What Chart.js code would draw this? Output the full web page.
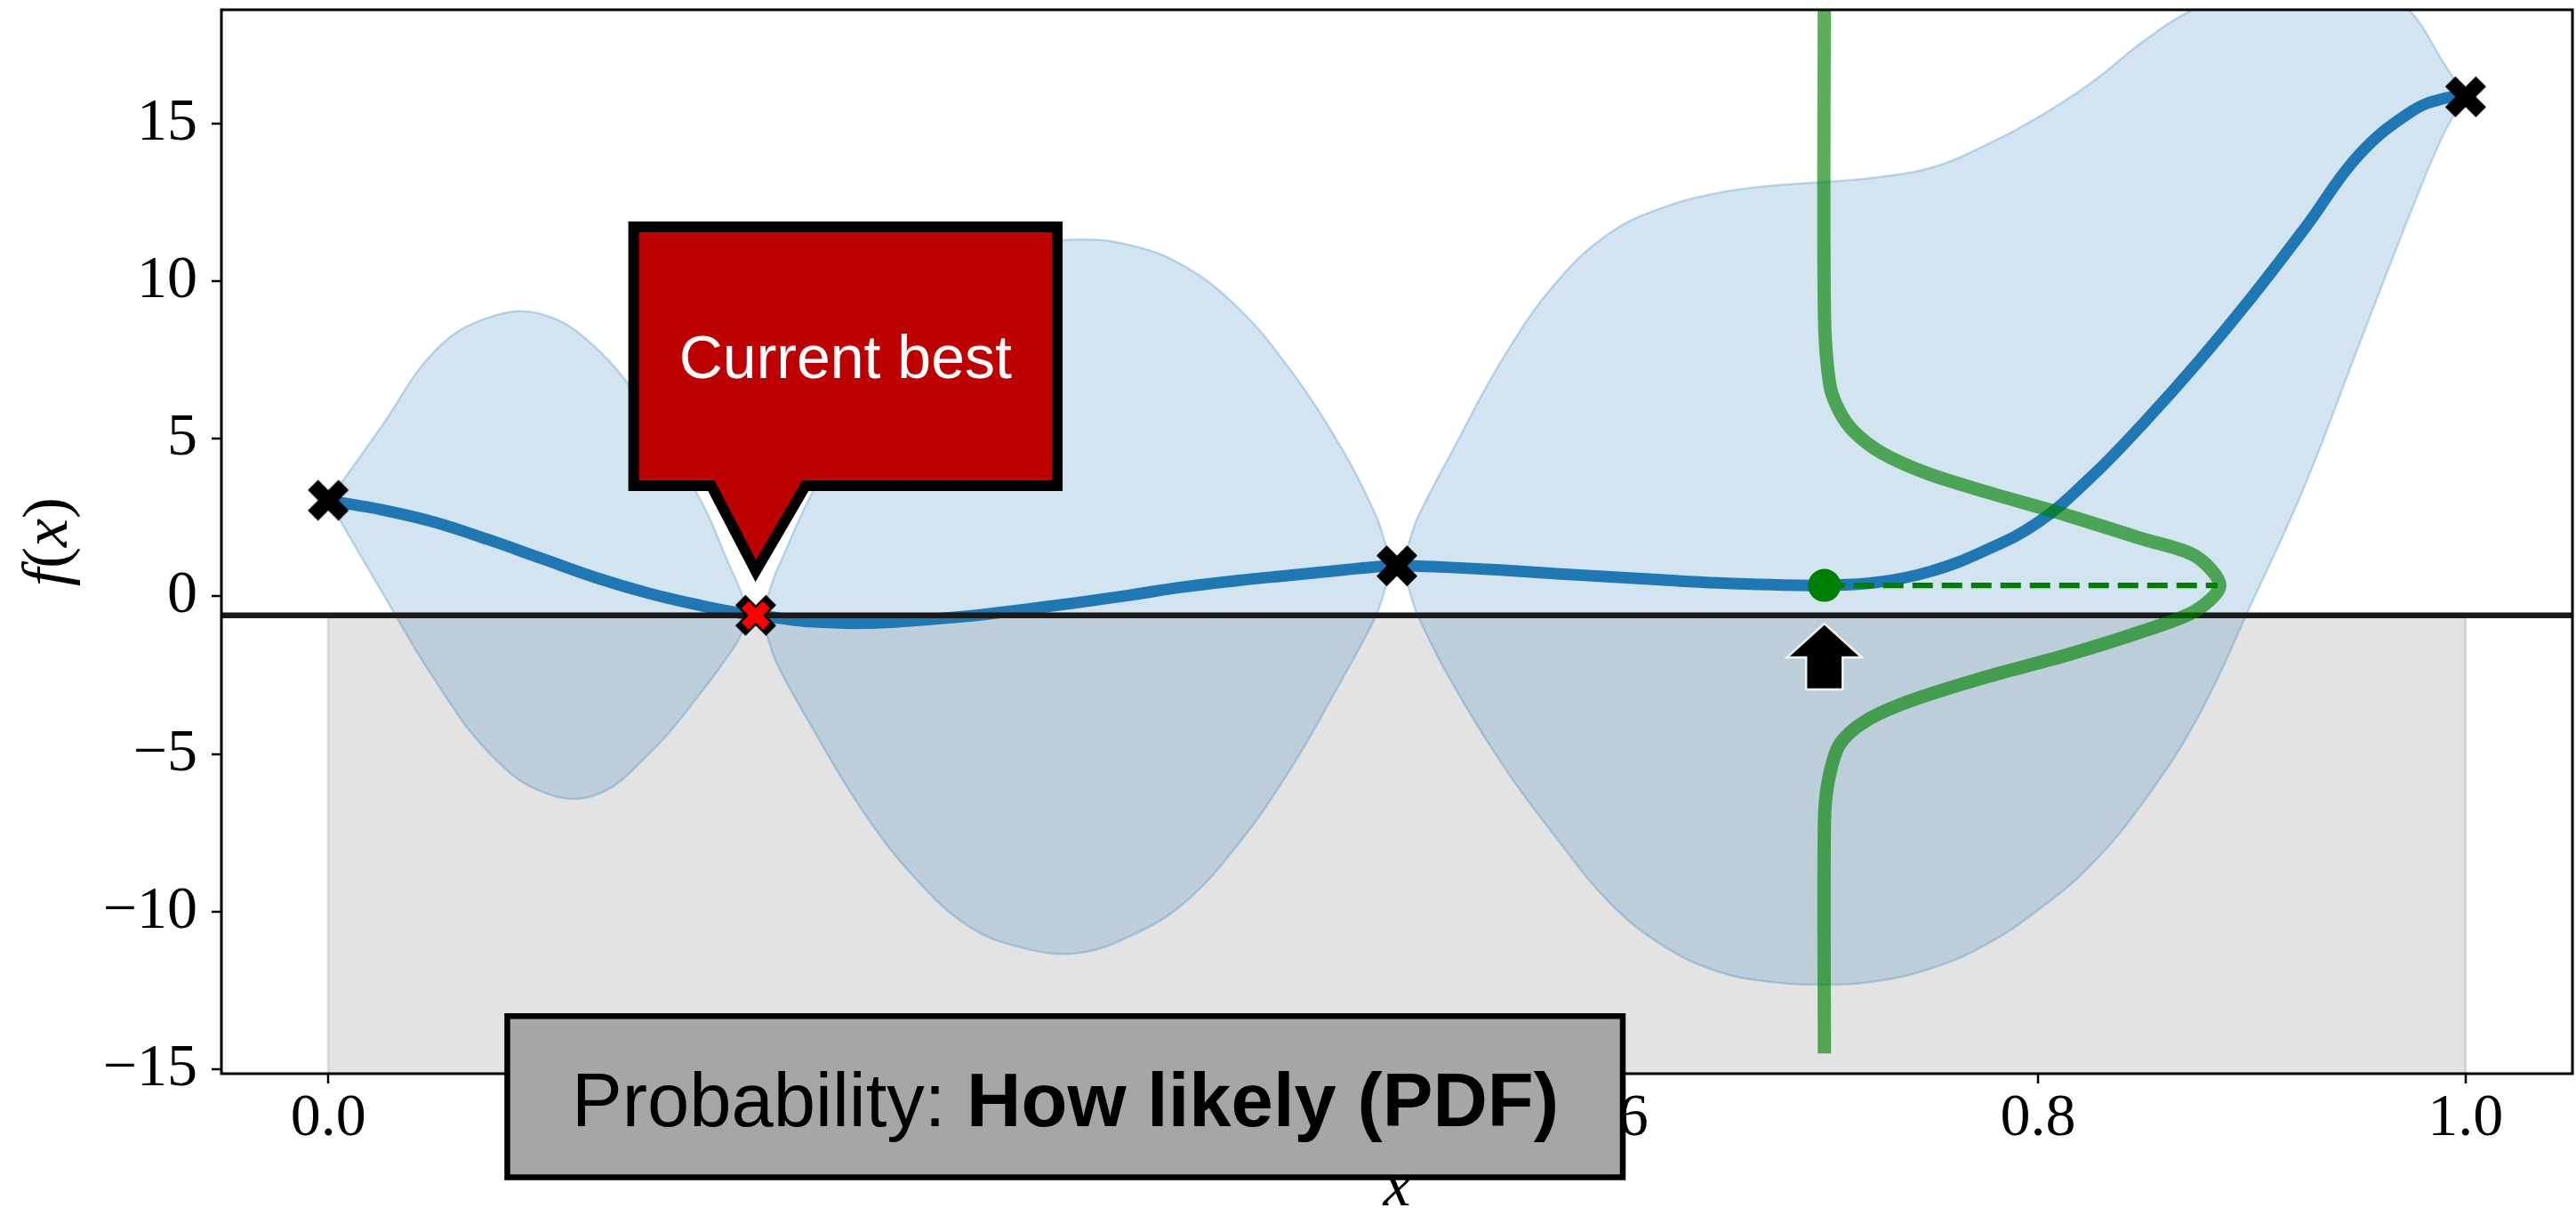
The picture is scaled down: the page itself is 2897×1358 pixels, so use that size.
<!DOCTYPE html>
<html>
<head>
<meta charset="utf-8">
<title>Expected improvement at a candidate point</title>
<script src="https://cdn.jsdelivr.net/npm/chart.js@4.4.1/dist/chart.umd.min.js"></script>
<style>
  html, body { margin: 0; padding: 0; background: #ffffff; }
  #wrap { width: 2897px; height: 1358px; position: relative; }
  canvas { display: block; }
</style>
</head>
<body>
<div id="wrap"><canvas id="chart" width="2897" height="1358"></canvas></div>
<script>
// ---- Gaussian-process posterior (mean and confidence band) ----
const gridX = [0, 0.01, 0.025, 0.05, 0.075, 0.1, 0.125, 0.15, 0.175, 0.19, 0.2, 0.21, 0.225, 0.25, 0.275,
  0.3, 0.325, 0.35, 0.375, 0.4, 0.425, 0.45, 0.475, 0.49, 0.5, 0.51, 0.525, 0.55, 0.575, 0.6, 0.625,
  0.65, 0.675, 0.7, 0.725, 0.75, 0.775, 0.8, 0.825, 0.85, 0.875, 0.9, 0.925, 0.95, 0.975, 0.99, 1.0];
const meanY = [3.05, 2.93, 2.75, 2.35, 1.8, 1.2, 0.6, 0.1, -0.3, -0.5, -0.6, -0.68, -0.8, -0.85, -0.76,
  -0.62, -0.42, -0.2, 0.04, 0.3, 0.5, 0.67, 0.84, 0.94, 0.97, 0.96, 0.92, 0.83, 0.72, 0.62, 0.52,
  0.43, 0.37, 0.35, 0.45, 0.8, 1.45, 2.35, 3.8, 5.55, 7.45, 9.5, 11.7, 14.0, 15.4, 15.8, 15.85];
const upperY = [3.05, 3.97, 5.4, 7.8, 8.85, 8.95, 7.9, 5.8, 2.95, 0.65, -0.6, 0.85, 3.1, 6.2, 8.7,
  10.25, 11.05, 11.32, 11.15, 10.5, 9.2, 7.2, 4.6, 2.6, 0.97, 2.55, 4.5, 7.6, 10.0, 11.55, 12.35,
  12.8, 13.03, 13.15, 13.3, 13.6, 14.3, 15.2, 16.3, 17.65, 18.7, 19.2, 19.85, 20.05, 18.5, 16.9, 15.85];
const lowerY = [3.05, 1.89, 0.15, -2.67, -4.95, -6.2, -6.3, -5.0, -3.0, -1.6, -0.6, -2.15, -4.0, -6.8, -8.97,
  -10.48, -11.15, -11.32, -10.78, -9.75, -7.92, -5.5, -2.55, -0.65, 0.97, -0.65, -2.65, -5.4, -7.7, -9.75, -11.1,
  -11.9, -12.23, -12.32, -12.2, -11.8, -11.07, -9.95, -8.5, -6.45, -3.8, -0.2, 3.55, 7.95, 12.3, 14.7, 15.85];

// ---- Observations ----
const obsX = [0.0, 0.2, 0.5, 1.0];
const obsY = [3.05, -0.6, 0.97, 15.85];
const bestIndex = 1;
const bestValue = -0.6;

// ---- Candidate point and its predictive density (drawn sideways) ----
const candidateX = 0.7;
const candidateMean = 0.35;
const densityPeakX = 0.884;
const densityX = [0.7, 0.7, 0.7025, 0.7071, 0.7142, 0.7269, 0.7483, 0.777, 0.8128, 0.8486, 0.8736, 0.885,
  0.8736, 0.8486, 0.8128, 0.777, 0.7412, 0.7196, 0.7071, 0.7017, 0.7, 0.7];
const densityY = [20, 9.0, 6.73, 5.86, 5.2, 4.55, 3.9, 3.29, 2.59, 1.83, 1.28, 0.35,
  -0.46, -1.11, -1.87, -2.53, -3.29, -3.94, -4.7, -5.9, -7.2, -14.5];

// ---- Axes ----
const xLimits = [-0.05, 1.05];
const yLimits = [-15.14, 18.61];
const xTickValues = [0, 0.2, 0.4, 0.6, 0.8, 1.0];
const xTickLabels = ['0.0', '0.2', '0.4', '0.6', '0.8', '1.0'];
const yTickValues = [-15, -10, -5, 0, 5, 10, 15];
const yTickLabels = ['\u221215', '\u221210', '\u22125', '0', '5', '10', '15'];

// ---- Text ----
const calloutText = 'Current best';
const captionRegular = 'Probability: ';
const captionBold = 'How likely (PDF)';

const SERIF = '"Liberation Serif", "DejaVu Serif", serif';
const SANS = '"Liberation Sans", Arial, sans-serif';
const BLUE = '#1f77b4';

// filled "X" marker, optionally with a smaller inner X of another colour
function xMarker(size, color, innerSize, innerColor) {
  const c = document.createElement('canvas');
  c.width = c.height = Math.ceil(size) + 4;
  const g = c.getContext('2d');
  const o = c.width / 2;
  const shape = [[-1,-2],[0,-1],[1,-2],[2,-1],[1,0],[2,1],[1,2],[0,1],[-1,2],[-2,1],[-1,0],[-2,-1]];
  const draw = (s, col) => {
    const k = s / 4;
    g.beginPath();
    shape.forEach(([px, py], i) => {
      const X = o + px * k, Y = o + py * k;
      if (i) g.lineTo(X, Y); else g.moveTo(X, Y);
    });
    g.closePath();
    g.fillStyle = col;
    g.fill();
  };
  draw(size, color);
  if (innerSize) draw(innerSize, innerColor);
  return c;
}

const pts = (xs, ys) => xs.map((v, i) => ({ x: v, y: ys[i] }));

// draw several differently-styled runs of text as one centred line
function drawRuns(ctx, runs, cx, baseline) {
  let total = 0;
  runs.forEach(r => { ctx.font = r.font; r.w = ctx.measureText(r.text).width; total += r.w; });
  let x = cx - total / 2;
  ctx.textAlign = 'left';
  ctx.textBaseline = 'alphabetic';
  runs.forEach(r => { ctx.font = r.font; ctx.fillText(r.text, x, baseline); x += r.w; });
}

// keep the plot area fixed: no extra room reserved for edge tick labels
function fixBox(size) {
  return s => {
    if (s.isHorizontal()) s.height = size; else s.width = size;
    s.paddingLeft = s.paddingRight = s.paddingTop = s.paddingBottom = 0;
  };
}

const overlay = {
  id: 'overlay',
  afterDatasetsDraw(chart) {
    const { ctx, chartArea: a, scales: { x, y } } = chart;
    ctx.save();

    // axes frame
    ctx.strokeStyle = '#000000';
    ctx.lineWidth = 3;
    ctx.strokeRect(a.left, a.top, a.right - a.left, a.bottom - a.top);

    // upward arrow under the candidate point
    const cx = x.getPixelForValue(candidateX);
    const cy = y.getPixelForValue(candidateMean);
    ctx.beginPath();
    ctx.moveTo(cx, cy + 43);
    ctx.lineTo(cx + 42, cy + 81);
    ctx.lineTo(cx + 20.5, cy + 81);
    ctx.lineTo(cx + 20.5, cy + 117);
    ctx.lineTo(cx - 20.5, cy + 117);
    ctx.lineTo(cx - 20.5, cy + 81);
    ctx.lineTo(cx - 42, cy + 81);
    ctx.closePath();
    ctx.fillStyle = '#000000';
    ctx.fill();
    ctx.strokeStyle = 'rgba(255,255,255,0.9)';
    ctx.lineWidth = 2.5;
    ctx.lineJoin = 'miter';
    ctx.stroke();

    // "Current best" call-out pointing at the best observation
    const bx = x.getPixelForValue(obsX[bestIndex]);
    const by = y.getPixelForValue(obsY[bestIndex]);
    const L = bx - 137.3, R = bx + 339.1, T = by - 436.8, B = by - 145.8;
    ctx.beginPath();
    ctx.moveTo(L, T);
    ctx.lineTo(R, T);
    ctx.lineTo(R, B);
    ctx.lineTo(bx + 56, B);
    ctx.lineTo(bx, by - 50);
    ctx.lineTo(bx - 50, B);
    ctx.lineTo(L, B);
    ctx.closePath();
    ctx.fillStyle = '#bd0000';
    ctx.fill();
    ctx.strokeStyle = '#000000';
    ctx.lineWidth = 12;
    ctx.miterLimit = 10;
    ctx.stroke();
    ctx.fillStyle = '#ffffff';
    ctx.font = '68px ' + SANS;
    ctx.textAlign = 'center';
    ctx.textBaseline = 'alphabetic';
    ctx.fillText(calloutText, (L + R) / 2, (T + B) / 2 + 25);
    ctx.restore();
  },
  afterDraw(chart) {
    const { ctx, chartArea: a } = chart;
    ctx.save();
    ctx.fillStyle = '#000000';

    // axis titles
    drawRuns(ctx, [{ text: 'x', font: 'italic 70px ' + SERIF }], (a.left + a.right) / 2, 1355);
    ctx.translate(75, (a.top + a.bottom) / 2);
    ctx.rotate(-Math.PI / 2);
    drawRuns(ctx, [
      { text: 'f', font: 'italic 72px ' + SERIF },
      { text: '(', font: '72px ' + SERIF },
      { text: 'x', font: 'italic 72px ' + SERIF },
      { text: ')', font: '72px ' + SERIF }
    ], 0, 0);
    ctx.setTransform(1, 0, 0, 1, 0, 0);

    // caption box
    ctx.fillStyle = '#a6a6a6';
    ctx.fillRect(570.5, 1142.3, 1254.5, 181.2);
    ctx.strokeStyle = '#000000';
    ctx.lineWidth = 6.5;
    ctx.strokeRect(570.5, 1142.3, 1254.5, 181.2);
    ctx.fillStyle = '#000000';
    drawRuns(ctx, [
      { text: captionRegular, font: '85px ' + SANS },
      { text: captionBold, font: 'bold 85px ' + SANS }
    ], 1198, 1266);
    ctx.restore();
  }
};

const bestMarker = xMarker(46, '#000000', 32, '#ff0000');
const obsMarker = xMarker(46, '#000000');

new Chart(document.getElementById('chart'), {
  type: 'line',
  data: {
    datasets: [
      { // region below the current best value
        data: [{ x: 0, y: yLimits[0] }, { x: 0, y: bestValue }, { x: 1, y: bestValue }, { x: 1, y: yLimits[0] }],
        borderColor: 'rgba(128,128,128,0.25)', borderWidth: 3,
        backgroundColor: 'rgba(128,128,128,0.22)', fill: 'start',
        pointRadius: 0, tension: 0, order: 10, clip: 0
      },
      { // upper confidence bound
        data: pts(gridX, upperY),
        borderColor: 'rgba(31,119,180,0.25)', borderWidth: 2.5,
        backgroundColor: 'rgba(31,119,180,0.2)', fill: '+1',
        pointRadius: 0, tension: 0.4, order: 9, clip: 0
      },
      { // lower confidence bound
        data: pts(gridX, lowerY),
        borderColor: 'rgba(31,119,180,0.25)', borderWidth: 2.5,
        fill: false, pointRadius: 0, tension: 0.4, order: 8, clip: 0
      },
      { // posterior mean
        data: pts(gridX, meanY),
        borderColor: BLUE, borderWidth: 13, fill: false,
        pointRadius: 0, tension: 0.4, order: 7, clip: 0
      },
      { // current best level
        data: [{ x: xLimits[0], y: bestValue }, { x: xLimits[1], y: bestValue }],
        borderColor: '#1a1a1a', borderWidth: 6.5, fill: false, pointRadius: 0, order: 6, clip: 0
      },
      { // observations
        data: pts(obsX, obsY),
        showLine: false,
        pointStyle: obsX.map((_, i) => i === bestIndex ? bestMarker : obsMarker),
        pointRadius: 23, order: 5, clip: 0
      },
      { // predictive density at the candidate
        data: pts(densityX, densityY),
        borderColor: 'rgba(0,128,0,0.64)', borderWidth: 15, fill: false,
        pointRadius: 0, tension: 0.3, order: 4, clip: 0
      },
      { // density peak guide
        data: [{ x: candidateX, y: candidateMean }, { x: densityPeakX, y: candidateMean }],
        borderColor: '#008000', borderWidth: 6.3, borderDash: [23, 10], fill: false,
        pointRadius: 0, order: 3, clip: 0
      },
      { // candidate point
        data: [{ x: candidateX, y: candidateMean }],
        showLine: false, pointRadius: 18.5, pointBackgroundColor: '#008000',
        pointBorderWidth: 0, order: 2, clip: 0
      }
    ]
  },
  options: {
    responsive: false,
    animation: false,
    devicePixelRatio: 1,
    layout: { autoPadding: false, padding: { top: 11, right: 4, left: 0, bottom: 0 } },
    plugins: { legend: { display: false }, tooltip: { enabled: false } },
    events: [],
    scales: {
      x: {
        type: 'linear', min: xLimits[0], max: xLimits[1],
        afterFit: fixBox(151),
        afterBuildTicks: s => { s.ticks = xTickValues.map(v => ({ value: v })); },
        grid: { display: true, drawOnChartArea: false, drawTicks: true, tickLength: 11, tickWidth: 2.5, tickColor: '#000000', lineWidth: 0 },
        border: { display: false },
        ticks: {
          autoSkip: false, maxRotation: 0, padding: 6, color: '#000000',
          font: { family: SERIF, size: 68, lineHeight: 1 },
          callback: v => xTickLabels[xTickValues.indexOf(v)]
        }
      },
      y: {
        type: 'linear', min: yLimits[0], max: yLimits[1],
        afterFit: fixBox(249),
        afterBuildTicks: s => { s.ticks = yTickValues.map(v => ({ value: v })); },
        grid: { display: true, drawOnChartArea: false, drawTicks: true, tickLength: 11, tickWidth: 2.5, tickColor: '#000000', lineWidth: 0 },
        border: { display: false },
        ticks: {
          autoSkip: false, padding: 16, color: '#000000',
          font: { family: SERIF, size: 68, lineHeight: 1 },
          callback: v => yTickLabels[yTickValues.indexOf(v)]
        }
      }
    }
  },
  plugins: [overlay]
});
</script>
</body>
</html>
